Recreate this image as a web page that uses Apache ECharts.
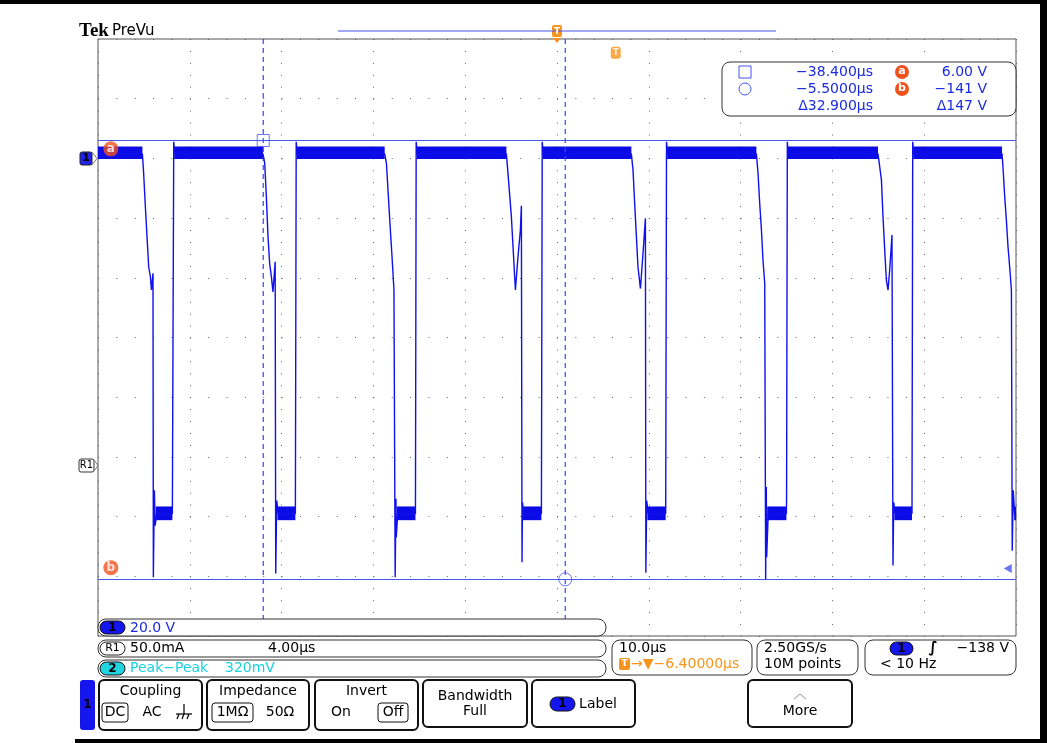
<!DOCTYPE html>
<html>
<head>
<meta charset="utf-8">
<script src="https://cdn.jsdelivr.net/npm/echarts@6/dist/echarts.min.js"></script>
<style>
html, body { margin: 0; padding: 0; background: #fff; }
#chart { width: 1047px; height: 743px; }
</style>
</head>
<body>
<div id="chart"></div>
<script>
// time in µs (trigger at 0), voltage in V, 10 µs/div and 20 V/div
const timeRange = [-56.4, 43.6];
const voltRange = [-160, 40];

// trace vertices, one line per switching cycle
const traceTime = [
  -56.4, -51.56, -51.43, -51.24, -51.06, -50.88, -50.69, -50.58, -50.41, -50.37, -50.26, -50.17, -50.01, -48.30, -48.28, -48.15, -48.04,
  -38.43, -38.24, -38.06, -37.88, -37.70, -37.51, -37.34, -37.10, -37.04, -36.93, -36.77, -34.90, -34.81, -34.70,
  -25.17, -24.98, -24.62, -24.37, -24.16, -24.03, -23.94, -23.91, -23.75, -21.82, -21.74, -21.63,
  -11.91, -11.74, -11.37, -11.19, -11.01, -10.93, -10.65, -10.39, -10.28, -10.21, -10.16, -10.03, -8.10, -8.01, -7.90,
  1.70, 1.88, 2.06, 2.25, 2.42, 2.69, 2.97, 3.23, 3.28, 3.37, 3.54, 5.44, 5.53, 5.64,
  15.32, 15.50, 15.68, 15.87, 16.04, 16.23, 16.33, 16.40, 16.44, 16.61, 18.59, 18.61, 18.69, 18.80,
  28.57, 28.94, 29.11, 29.30, 29.48, 29.66, 29.84, 30.09, 30.20, 30.28, 30.44, 32.27, 32.35, 32.46,
  42.08, 42.18, 42.37, 42.55, 42.73, 42.91, 43.10, 43.19, 43.30, 43.46, 43.6
];
const traceVolt = [
  1.5, 1.5, -4.9, -16.2, -26.2, -36.3, -39.7, -44.1, -38.5, -140.3, -111.2, -123, -119, -119, -103.5, 5.6, 1.5,
  1.5, -1.6, -12.8, -26.2, -35.2, -39.7, -44.7, -34.6, -139.1, -114.6, -119, -119, 5.6, 1.5,
  1.5, -1.6, -20.6, -33, -44.1, -140.3, -114, -127, -119, -119, 5.6, 1.5,
  1.5, -5, -19.5, -29.6, -39.7, -44.1, -33, -24, -15.9, -135.3, -115.2, -119, -119, 5.6, 1.5,
  1.5, -3.9, -15, -26.2, -36.3, -43.6, -31.8, -20.1, -138.8, -114.6, -119, -119, 5.6, 1.5,
  1.5, -5, -15, -24, -34.1, -41.9, -140.9, -110.1, -133.6, -119, -119, -112.9, 5.6, 1.5,
  1.5, -7.2, -19.5, -30.7, -40.8, -44.1, -37.4, -25.7, -136.4, -115.2, -119, -119, 5.6, 1.5,
  1.5, -2.8, -12.8, -20.6, -29.6, -36.3, -44.1, -131.4, -111.2, -119.6, -119
];

// noise envelope of the flat parts
const highBandStart = [-56.4, -48.1, -34.75, -21.68, -7.95, 5.6, 18.75, 32.4];
const highBandEnd = [-51.56, -38.43, -25.17, -11.91, 1.70, 15.32, 28.57, 42.08];
const highBandVolt = [-0.2, 4.0];
const lowBandStart = [-50.1, -36.85, -23.85, -10.1, 3.45, 16.5, 30.35, 43.4];
const lowBandEnd = [-48.3, -34.9, -21.82, -8.10, 5.44, 18.59, 32.27, 43.6];
const lowBandVolt = [-121.2, -116.6];

// cursors
const cursorTime = [-38.4, -5.5];
const cursorVolt = [6.00, -141];
const badgeTime = [-55.0, -55.0];
const badgeVolt = [3.2, -137.1];
const badgeName = ['a', 'b'];
const trigTime = [0];
const trigVolt = [35.4];

const BLUE = '#1010ee';
const CUR = '#4455f0';
const TXT = '#1a2be0';
const ORANGE = '#f7941d';
const RED = '#f0521e';
const FONT = '"DejaVu Sans"';

const chart = echarts.init(document.getElementById('chart'));

// overlay elements live on their own layer, above the plot
function txt(x, y, s, color, size, align, weight) {
  return {
    type: 'text', x: x, y: y, z: 100, zlevel: 1,
    style: {
      text: s, fill: color || '#000',
      font: (weight || 'normal') + ' ' + (size || 14) + 'px ' + FONT,
      align: align || 'left', verticalAlign: 'middle'
    }
  };
}
function box(x, y, w, h, r, stroke, fill, lw) {
  return {
    type: 'rect', z: 99, zlevel: 1,
    shape: { x: x, y: y, width: w, height: h, r: r },
    style: { fill: fill || '#fff', stroke: stroke || 'none', lineWidth: lw || 1 }
  };
}
function pill(x, y, w, h, fill, label, color) {
  return [box(x, y, w, h, h / 2, '#111', fill, 1), txt(x + w / 2, y + h / 2, label, color || '#000', 12, 'center', 'bold')];
}
function line(points, color, lw) {
  return { type: 'polyline', z: 100, zlevel: 1, shape: { points: points }, style: { stroke: color, lineWidth: lw || 1, fill: 'none' } };
}

const traceData = traceTime.map((t, i) => [t, traceVolt[i]]);
const bands = [];
highBandStart.forEach((t, i) => {
  bands.push([{ coord: [t, highBandVolt[0]] }, { coord: [highBandEnd[i], highBandVolt[1]] }]);
});
lowBandStart.forEach((t, i) => {
  bands.push([{ coord: [t, lowBandVolt[0]] }, { coord: [lowBandEnd[i], lowBandVolt[1]] }]);
});

// one dashed vertical line per time cursor, spanning the full screen
const timeCursorSeries = cursorTime.map(t => ({
  type: 'line', xAxisIndex: 1, z: 4, silent: true,
  data: [[t, voltRange[1]], [t, voltRange[0]]],
  showSymbol: false,
  lineStyle: { color: '#3346f2', width: 1.2, type: [5, 4] }
}));

let graphics = [
  // frame
  box(0, 0, 1047, 4, 0, 'none', '#000'),
  box(1040, 0, 7, 743, 0, 'none', '#000'),
  box(75, 739, 972, 4, 0, 'none', '#000'),
  // title
  { type: 'text', x: 79, y: 31, z: 100, zlevel: 1, style: { text: 'Tek', fill: '#000', font: 'bold 19px "Liberation Serif"', verticalAlign: 'middle' } },
  txt(112, 31, 'PreVu', '#000', 15),
  // record view
  line([[338, 31], [776, 31]], CUR, 1),
  box(552, 25, 10, 12, 2, 'none', ORANGE),
  txt(557, 31.5, 'T', '#fff', 9, 'center', 'bold'),
  { type: 'polygon', z: 100, zlevel: 1, shape: { points: [[553, 38], [561, 38], [557, 43]] }, style: { fill: ORANGE } },
  // channel markers on the left
  box(80, 152, 12, 13, 2, '#222', '#2222ee'),
  txt(86, 158.5, '1', '#000', 11, 'center', 'bold'),
  line([[92, 152], [97, 158.5], [92, 165]], '#777', 1),
  box(79, 459, 15, 13, 2, '#333', '#fff'),
  txt(86.5, 465.5, 'R1', '#000', 10, 'center'),
  line([[94, 460], [98, 465.5], [94, 471]], '#777', 1),
  // cursor readout
  box(722, 62, 294, 54, 8, '#333', '#fff'),
  { type: 'rect', z: 100, zlevel: 1, shape: { x: 739, y: 66, width: 12, height: 12 }, style: { fill: 'none', stroke: CUR, lineWidth: 1 } },
  { type: 'circle', z: 100, zlevel: 1, shape: { cx: 745, cy: 89, r: 6 }, style: { fill: 'none', stroke: CUR, lineWidth: 1 } },
  txt(873, 72, '\u221238.400\u00b5s', TXT, 14, 'right'),
  txt(873, 89, '\u22125.5000\u00b5s', TXT, 14, 'right'),
  txt(873, 106, '\u039432.900\u00b5s', TXT, 14, 'right'),
  { type: 'circle', z: 100, zlevel: 1, shape: { cx: 902, cy: 72, r: 7 }, style: { fill: RED } },
  txt(902, 71.5, 'a', '#fff', 11, 'center', 'bold'),
  { type: 'circle', z: 100, zlevel: 1, shape: { cx: 902, cy: 89, r: 7 }, style: { fill: RED } },
  txt(902, 88.5, 'b', '#fff', 11, 'center', 'bold'),
  txt(987, 72, '6.00 V', TXT, 14, 'right'),
  txt(987, 89, '\u2212141 V', TXT, 14, 'right'),
  txt(987, 106, '\u0394147 V', TXT, 14, 'right'),
  // readout rows
  box(98, 619, 508, 17, 8, '#333', '#fff'),
  box(98, 640, 508, 17, 8, '#333', '#fff'),
  box(98, 660, 508, 17, 8, '#333', '#fff'),
  txt(130, 628, '20.0 V', TXT, 14),
  box(100, 642, 25, 13, 6.5, '#222', '#fff'),
  txt(112.5, 648.5, 'R1', '#000', 11, 'center'),
  txt(130, 648.5, '50.0mA', '#000', 14),
  txt(268, 648.5, '4.00\u00b5s', '#000', 14),
  txt(130, 668.5, 'Peak\u2212Peak', '#18d2e0', 14),
  txt(225, 668.5, '320mV', '#18d2e0', 14),
  // timebase / sample / trigger
  box(612, 640, 140, 35, 8, '#333', '#fff'),
  txt(619, 648.5, '10.0\u00b5s', '#000', 14),
  box(619, 658, 11, 12, 2, 'none', ORANGE),
  txt(624.5, 664, 'T', '#fff', 9, 'center', 'bold'),
  txt(631, 664.5, '\u2192\u25bc\u22126.40000\u00b5s', ORANGE, 14),
  box(757, 640, 101, 35, 8, '#333', '#fff'),
  txt(764, 648.5, '2.50GS/s', '#000', 14),
  txt(764, 664.5, '10M points', '#000', 14),
  box(865, 640, 151, 35, 8, '#333', '#fff'),
  txt(933, 648.5, '\u222b', '#000', 15, 'center', 'bold'),
  txt(1009, 648.5, '\u2212138 V', '#000', 14, 'right'),
  txt(880, 664.5, '< 10 Hz', '#000', 14),
  // bottom menu
  box(80, 680, 15, 50, 3, 'none', '#1515ee'),
  txt(87.5, 705, '1', '#000', 12, 'center', 'bold'),
  box(99, 680, 103, 50, 5, '#111', '#fff', 2),
  txt(150.5, 691, 'Coupling', '#000', 14, 'center'),
  box(102, 703, 26, 19, 3, '#111', '#fff', 1),
  txt(115, 712.5, 'DC', '#000', 14, 'center'),
  txt(152, 712.5, 'AC', '#000', 14, 'center'),
  line([[184, 704], [184, 714]], '#000', 1.2),
  line([[176, 714], [192, 714]], '#000', 1.2),
  line([[179, 714], [177, 719]], '#000', 1.2),
  line([[184, 714], [182, 719]], '#000', 1.2),
  line([[189, 714], [187, 719]], '#000', 1.2),
  box(207, 680, 102, 50, 5, '#111', '#fff', 2),
  txt(258, 691, 'Impedance', '#000', 14, 'center'),
  box(212, 703, 41, 19, 3, '#111', '#fff', 1),
  txt(232.5, 712.5, '1M\u03a9', '#000', 14, 'center'),
  txt(280, 712.5, '50\u03a9', '#000', 14, 'center'),
  box(315, 680, 103, 50, 5, '#111', '#fff', 2),
  txt(366.5, 691, 'Invert', '#000', 14, 'center'),
  txt(341, 712.5, 'On', '#000', 14, 'center'),
  box(378, 703, 30, 19, 3, '#111', '#fff', 1),
  txt(393, 712.5, 'Off', '#000', 14, 'center'),
  box(423, 680, 104, 47, 5, '#111', '#fff', 2),
  txt(475, 696.5, 'Bandwidth', '#000', 14, 'center'),
  txt(475, 711.5, 'Full', '#000', 14, 'center'),
  box(532, 680, 103, 47, 5, '#111', '#fff', 2),
  txt(598, 704, 'Label', '#000', 14, 'center'),
  box(748, 680, 104, 47, 5, '#111', '#fff', 2),
  line([[794, 699], [800, 694], [806, 699]], '#999', 1),
  txt(800, 711.5, 'More', '#000', 14, 'center')
];
graphics = graphics.concat(pill(100, 621, 25, 13, '#1515ee', '1'));
graphics = graphics.concat(pill(100, 662, 25, 13, '#22d3e0', '2'));
graphics = graphics.concat(pill(890, 642, 23, 13, '#1515ee', '1'));
graphics = graphics.concat(pill(550, 697, 25, 14, '#1515ee', '1'));

chart.setOption({
  animation: false,
  backgroundColor: '#fff',
  grid: {
    left: 98, top: 39, width: 918, height: 597,
    show: true, borderColor: '#555', borderWidth: 1, backgroundColor: '#fff'
  },
  xAxis: [{
    // graticule: 10 divisions
    type: 'value', min: 0, max: 10, interval: 1,
    axisLine: { show: false }, axisTick: { show: false }, axisLabel: { show: false },
    splitLine: { show: true, lineStyle: { color: '#666', width: 1, type: [1, 10.94] } }
  }, {
    type: 'value', min: timeRange[0], max: timeRange[1], show: false
  }],
  yAxis: {
    type: 'value', min: voltRange[0], max: voltRange[1], interval: 20,
    axisLine: { show: false }, axisTick: { show: false }, axisLabel: { show: false },
    splitLine: { show: true, lineStyle: { color: '#666', width: 1, type: [1, 17.36] } }
  },
  series: [{
    name: 'CH1',
    type: 'line',
    xAxisIndex: 1,
    data: traceData,
    showSymbol: false,
    lineStyle: { color: BLUE, width: 1.4 },
    z: 5,
    markArea: {
      silent: true,
      itemStyle: { color: '#0b0be6', opacity: 1 },
      data: bands
    }
  }, {
    name: 'cursorsV',
    type: 'line',
    xAxisIndex: 1,
    data: [],
    z: 4,
    markLine: {
      silent: true, symbol: 'none', label: { show: false },
      lineStyle: { type: 'solid', color: CUR, width: 1, opacity: 1 },
      data: [{ yAxis: cursorVolt[0] }, { yAxis: cursorVolt[1] }]
    }
  }, {
    type: 'scatter', xAxisIndex: 1, z: 6,
    data: [[cursorTime[0], cursorVolt[0]]],
    symbol: 'rect', symbolSize: 12,
    itemStyle: { color: 'rgba(255,255,255,0)', borderColor: CUR, borderWidth: 1 }
  }, {
    type: 'scatter', xAxisIndex: 1, z: 6,
    data: [[cursorTime[1], cursorVolt[1]]],
    symbol: 'circle', symbolSize: 13,
    itemStyle: { color: 'rgba(255,255,255,0)', borderColor: CUR, borderWidth: 1 }
  }, {
    type: 'scatter', xAxisIndex: 1, z: 7,
    data: badgeTime.map((t, i) => ({ value: [t, badgeVolt[i]], name: badgeName[i] })),
    symbol: 'circle', symbolSize: 15,
    itemStyle: { color: RED },
    label: { show: true, position: 'inside', formatter: '{b}', color: '#fff', fontWeight: 'bold', fontSize: 12, fontFamily: FONT }
  }, {
    type: 'scatter', xAxisIndex: 1, z: 7,
    data: trigTime.map((t, i) => [t, trigVolt[i]]),
    symbol: 'roundRect', symbolSize: [10, 12],
    itemStyle: { color: ORANGE },
    label: { show: true, position: 'inside', formatter: 'T', color: '#fff', fontWeight: 'bold', fontSize: 9, fontFamily: FONT }
  }, {
    type: 'scatter', xAxisIndex: 1, z: 7,
    data: [[42.7, -137.4]],
    symbol: 'triangle', symbolRotate: 90, symbolSize: [9, 8],
    itemStyle: { color: CUR }
  }].concat(timeCursorSeries),
  graphic: graphics
});
</script>
</body>
</html>
